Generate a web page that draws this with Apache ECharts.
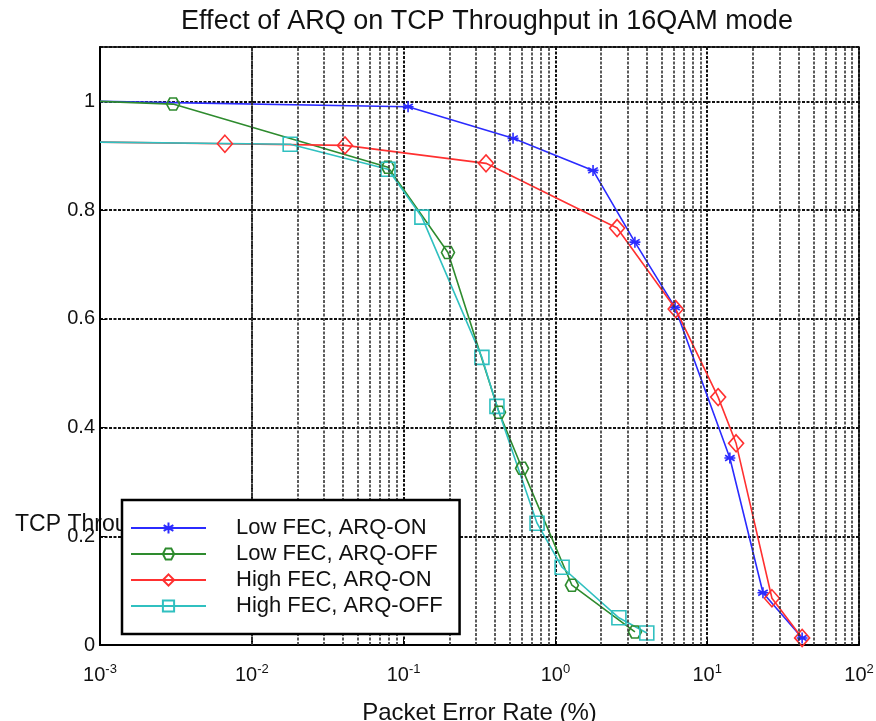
<!DOCTYPE html>
<html>
<head>
<meta charset="utf-8">
<script src="https://cdn.jsdelivr.net/npm/echarts@6/dist/echarts.min.js"></script>
<style>
  html, body { margin: 0; padding: 0; background: #fff; }
  #main { width: 876px; height: 721px; }
</style>
</head>
<body>
<div id="main"></div>
<script>
// packet error rate (%) and TCP throughput
const perLowOn = [0.001, 0.107, 0.526, 1.77, 3.34, 6.14, 14.1, 23.3, 42.2];
const tputLowOn = [1.0, 0.99, 0.932, 0.873, 0.741, 0.621, 0.344, 0.096, 0.013];

const perLowOff = [0.001, 0.00303, 0.0789, 0.196, 0.425, 0.603, 1.285, 3.34];
const tputLowOff = [1.0, 0.995, 0.879, 0.722, 0.428, 0.325, 0.110, 0.024];

const perHighOn = [0.001, 0.00665, 0.0411, 0.349, 2.55, 6.2, 11.8, 15.5, 26.7, 42.2];
const tputHighOn = [0.925, 0.922, 0.919, 0.886, 0.767, 0.618, 0.456, 0.371, 0.086, 0.013];

const perHighOff = [0.001, 0.0179, 0.0789, 0.132, 0.328, 0.412, 0.757, 1.107, 2.62, 4.0];
const tputHighOff = [0.925, 0.921, 0.875, 0.787, 0.529, 0.439, 0.224, 0.143, 0.050, 0.022];

const seriesNames = ["Low FEC, ARQ-ON", "Low FEC, ARQ-OFF", "High FEC, ARQ-ON", "High FEC, ARQ-OFF"];
const yTicks = [0, 0.2, 0.4, 0.6, 0.8, 1];

// minor grid positions of the log axis (2..9 in each decade)
const minorLines = [];
for (let e = -3; e < 2; e++) {
  for (let m = 2; m <= 9; m++) minorLines.push({ xAxis: m * Math.pow(10, e) });
}

const asterisk = "path://M0,-6L0,6M-5.2,-3L5.2,3M-5.2,3L5.2,-3M-6,0L6,0";
const hexagon = "path://M-6,0L-3,-5.2L3,-5.2L6,0L3,5.2L-3,5.2Z";

function pts(xs, ys) {
  // first point sits on the left edge without a marker
  return xs.map((x, i) => (i === 0 ? { value: [x, ys[i]], symbol: "none" } : [x, ys[i]]));
}

function lineSeries(name, xs, ys, color, symbol, size) {
  return {
    name: name,
    type: "line",
    data: pts(xs, ys),
    symbol: symbol,
    symbolSize: size,
    z: 3,
    lineStyle: { color: color, width: 1.6 },
    itemStyle: { color: "rgba(0,0,0,0)", borderColor: color, borderWidth: 1.6 },
  };
}

const chart = echarts.init(document.getElementById("main"));
const font = "Liberation Sans, Arial, sans-serif";

const option = {
  backgroundColor: "#fff",
  animation: false,
  title: {
    text: "Effect of ARQ on TCP Throughput in 16QAM mode",
    left: 482,
    top: 3,
    textAlign: "center",
    textStyle: { fontFamily: font, fontSize: 27, fontWeight: "normal", color: "#111" },
  },
  grid: {
    left: 100, right: 17, top: 47, bottom: 76,
    outerBoundsMode: "none",
    containLabel: false,
    show: true, borderColor: "#000", borderWidth: 1.5,
  },
  legend: {
    data: seriesNames,
    orient: "vertical",
    left: 122,
    top: 500,
    padding: [17, 17, 17, 8],
    backgroundColor: "#fff",
    borderColor: "#000",
    borderWidth: 2.5,
    itemWidth: 75,
    itemHeight: 14,
    itemGap: 4,
    z: 10,
    textStyle: {
      fontFamily: font, fontSize: 22, color: "#111", lineHeight: 22,
      padding: [0, 0, 0, 25],
    },
  },
  xAxis: {
    type: "log",
    logBase: 10,
    min: 0.001,
    max: 100,
    name: "Packet Error Rate (%)",
    nameLocation: "middle",
    nameGap: 56,
    nameTextStyle: { fontFamily: font, fontSize: 24, color: "#111" },
    axisLine: { lineStyle: { color: "#000", width: 2 } },
    axisTick: { inside: true, length: 6, lineStyle: { color: "#000" } },
    axisLabel: {
      margin: 18,
      formatter: (v) => "{b|10}{s|" + Math.round(Math.log10(v)) + "}",
      rich: {
        b: { fontFamily: font, fontSize: 20, color: "#111" },
        s: { fontFamily: font, fontSize: 13, color: "#111", padding: [0, 0, 12, 0] },
      },
    },
    splitLine: { show: true, lineStyle: { color: "#111", width: 2, type: [3, 1.5] } },
  },
  yAxis: {
    type: "value",
    min: 0,
    max: 1.1,
    interval: 0.2,
    axisLine: { show: true, lineStyle: { color: "#000", width: 2 } },
    axisTick: { show: true, inside: true, length: 6, lineStyle: { color: "#000" } },
    axisLabel: {
      showMaxLabel: false,
      margin: 5,
      fontFamily: font,
      fontSize: 20,
      color: "#111",
      formatter: (v) => (yTicks.some((t) => Math.abs(t - v) < 1e-9) ? String(+v.toFixed(1)) : ""),
    },
    splitLine: { show: true, lineStyle: { color: "#111", width: 1.8, type: [3, 1.5] } },
  },
  graphic: [
    {
      type: "text",
      left: 15,
      top: 513,
      z: 0,
      style: { text: "TCP Throughput", fontFamily: font, fontSize: 23, fill: "#111" },
    },
  ],
  series: [
    {
      name: "grid-minor",
      type: "line",
      data: [],
      z: 1,
      silent: true,
      markLine: {
        silent: true,
        symbol: "none",
        label: { show: false },
        lineStyle: { color: "#333", width: 1.6, type: [3, 1.5] },
        data: minorLines,
      },
    },
    lineSeries(seriesNames[0], perLowOn, tputLowOn, "#2b2bff", asterisk, 11),
    lineSeries(seriesNames[1], perLowOff, tputLowOff, "#2e8b2e", hexagon, [13, 12]),
    lineSeries(seriesNames[2], perHighOn, tputHighOn, "#ff3030", "diamond", [15, 17]),
    lineSeries(seriesNames[3], perHighOff, tputHighOff, "#30c0c0", "rect", 14),
  ],
};

chart.setOption(option);
</script>
</body>
</html>
